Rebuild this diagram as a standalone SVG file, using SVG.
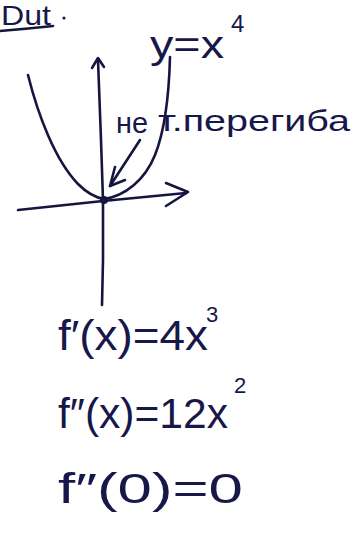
<svg xmlns="http://www.w3.org/2000/svg" width="361" height="541" viewBox="0 0 361 541">
<style>
.pen{fill:none;stroke:#15153f;stroke-width:2.6;stroke-linecap:round;stroke-linejoin:round}
.t{font-family:"Liberation Sans","DejaVu Sans",sans-serif;fill:#17174a}
</style>
<rect width="361" height="541" fill="#ffffff"/>
<g id="header">
<text class="t" x="1" y="25" font-size="28" textLength="50" lengthAdjust="spacingAndGlyphs">Dut</text>
<path class="pen" d="M0 31 Q25 29 53 26"/>
<circle cx="64" cy="18" r="1.6" fill="#17174a"/>
</g>
<g id="axes">
<path class="pen" d="M98 60 L101 140 L103 200 L103 260 L102 305"/>
<path class="pen" d="M92 68 L98 58 L104 67"/>
<path class="pen" d="M18 210 L103 201 L186 193"/>
<path class="pen" d="M166 183 L188 192 L166 206"/>
</g>
<g id="curve">
<path class="pen" d="M28 75 C38 115 55 160 78 184 C88 194 98 198 104 199 C125 196 145 180 155 155 C165 130 169 95 170 57"/>
<circle cx="104" cy="200" r="4" fill="#15153f"/>
</g>
<g id="title">
<text class="t" x="150" y="58" font-size="38" textLength="74" lengthAdjust="spacingAndGlyphs">y=x</text>
<text class="t" x="231" y="32" font-size="24">4</text>
</g>
<g id="label">
<text class="t" x="116" y="133" font-size="30" textLength="32" lengthAdjust="spacingAndGlyphs">не</text>
<text class="t" x="158" y="131" font-size="30" textLength="192" lengthAdjust="spacingAndGlyphs">т.перегиба</text>
<path class="pen" d="M140 140 L110 186"/>
<path class="pen" d="M115 167 L110 186 L125 180"/>
</g>
<g id="formulas">
<text class="t" x="58" y="350" font-size="42" textLength="150" lengthAdjust="spacingAndGlyphs">f′(x)=4x</text>
<text class="t" x="206" y="322" font-size="22">3</text>
<text class="t" x="58" y="428" font-size="42" textLength="170" lengthAdjust="spacingAndGlyphs">f″(x)=12x</text>
<text class="t" x="234" y="393" font-size="22">2</text>
<text class="t" x="58" y="503" font-size="42" textLength="185" lengthAdjust="spacingAndGlyphs">f″(0)=0</text>
</g>
</svg>
